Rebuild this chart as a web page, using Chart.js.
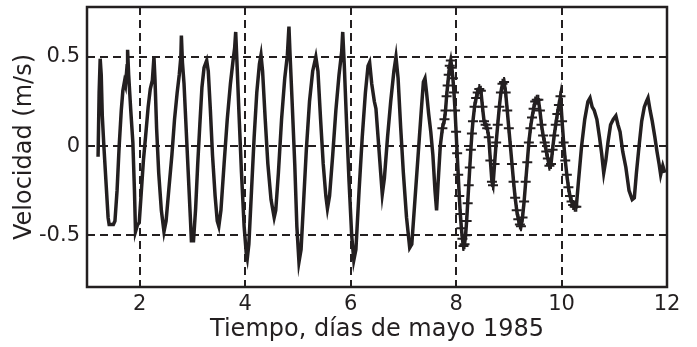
<!DOCTYPE html>
<html>
<head>
<meta charset="utf-8">
<script src="https://cdn.jsdelivr.net/npm/chart.js@4/dist/chart.umd.min.js"></script>
<style>
  html, body { margin: 0; padding: 0; background: #fff; }
  #wrap { width: 697px; height: 347px; }
</style>
</head>
<body>
<div id="wrap"><canvas id="velocity-chart"></canvas></div>
<script>
// Current velocity, May 1985. Values.
// The stretch between markedFrom and markedTo is drawn with "+" markers.

const timeDays = [
  1.21, 1.23, 1.25, 1.27, 1.29, 1.32, 1.36, 1.40, 1.42, 1.50, 1.53, 1.57, 1.61, 1.65, 1.68, 1.71, 1.73, 1.76, 1.77, 1.79,
  1.83, 1.87, 1.90, 1.92, 1.96, 1.99, 2.02, 2.07, 2.11, 2.16, 2.20, 2.24, 2.27, 2.29, 2.32, 2.36, 2.41, 2.46, 2.50, 2.55,
  2.61, 2.66, 2.71, 2.75, 2.78, 2.79, 2.81, 2.84, 2.88, 2.92, 2.96, 2.98, 3.02, 3.06, 3.10, 3.14, 3.18, 3.22, 3.27, 3.30,
  3.34, 3.38, 3.43, 3.47, 3.50, 3.54, 3.60, 3.66, 3.72, 3.77, 3.80, 3.82, 3.84, 3.88, 3.93, 3.98, 4.02, 4.04, 4.07, 4.12,
  4.17, 4.22, 4.27, 4.30, 4.33, 4.38, 4.43, 4.49, 4.55, 4.58, 4.63, 4.69, 4.75, 4.80, 4.83, 4.85, 4.89, 4.94, 4.98, 5.02,
  5.06, 5.11, 5.16, 5.22, 5.28, 5.34, 5.38, 5.43, 5.48, 5.53, 5.56, 5.60, 5.66, 5.72, 5.78, 5.83, 5.85, 5.88, 5.92, 5.97,
  6.02, 6.06, 6.10, 6.16, 6.22, 6.28, 6.33, 6.36, 6.40, 6.45, 6.48, 6.52, 6.57, 6.60, 6.64, 6.70, 6.76, 6.82, 6.86, 6.90,
  6.95, 7.00, 7.06, 7.12, 7.16, 7.22, 7.28, 7.34, 7.38, 7.41, 7.44, 7.48, 7.52, 7.56, 7.60, 7.63, 7.66, 7.70,
  7.74, 7.78, 7.80, 7.82, 7.84, 7.86, 7.88, 7.90, 7.92, 7.94, 7.96, 7.98, 8.00, 8.02, 8.04, 8.06, 8.08, 8.10, 8.12, 8.14,
  8.16, 8.18, 8.20, 8.22, 8.24, 8.26, 8.28, 8.30, 8.32, 8.35, 8.38, 8.41, 8.44, 8.47, 8.50, 8.53, 8.56, 8.59, 8.62, 8.65,
  8.68, 8.70, 8.73, 8.76, 8.79, 8.82, 8.85, 8.88, 8.91, 8.94, 8.97, 9.00, 9.03, 9.06, 9.09, 9.12, 9.15, 9.18, 9.21, 9.23,
  9.26, 9.29, 9.32, 9.35, 9.38, 9.41, 9.44, 9.47, 9.50, 9.53, 9.56, 9.59, 9.62, 9.65, 9.68, 9.71, 9.74, 9.77, 9.80, 9.83,
  9.86, 9.89, 9.92, 9.95, 9.98, 10.01, 10.04, 10.07, 10.10, 10.13, 10.16, 10.19, 10.22, 10.25, 10.28,
  10.32, 10.38, 10.44, 10.50, 10.54, 10.58, 10.62, 10.67, 10.72, 10.76, 10.80, 10.84, 10.88, 10.93, 10.98, 11.03, 11.07,
  11.11, 11.16, 11.22, 11.28, 11.34, 11.38, 11.42, 11.47, 11.52, 11.57, 11.61, 11.64, 11.68, 11.72, 11.77, 11.81, 11.85,
  11.88, 11.92, 11.96
];

const velocity = [
  -0.06, 0.30, 0.49, 0.40, 0.17, 0.00, -0.20, -0.40, -0.44, -0.44, -0.42, -0.25, 0.00, 0.20, 0.31, 0.36, 0.34, 0.45, 0.54, 0.40,
  0.20, 0.02, -0.25, -0.48, -0.44, -0.43, -0.30, -0.08, 0.05, 0.22, 0.32, 0.37, 0.50, 0.37, 0.10, -0.15, -0.36, -0.48, -0.42, -0.25,
  -0.05, 0.15, 0.30, 0.40, 0.50, 0.62, 0.47, 0.35, 0.10, -0.15, -0.40, -0.53, -0.53, -0.35, -0.10, 0.12, 0.33, 0.44, 0.48, 0.42,
  0.20, -0.05, -0.28, -0.42, -0.45, -0.36, -0.10, 0.15, 0.35, 0.48, 0.55, 0.64, 0.50, 0.20, -0.15, -0.45, -0.60, -0.63, -0.55, -0.25,
  0.05, 0.30, 0.46, 0.51, 0.42, 0.15, -0.10, -0.30, -0.40, -0.36, -0.15, 0.15, 0.38, 0.51, 0.67, 0.52, 0.25, -0.10, -0.45, -0.65,
  -0.58, -0.30, -0.02, 0.25, 0.42, 0.50, 0.42, 0.15, -0.10, -0.28, -0.35, -0.28, -0.05, 0.20, 0.40, 0.53, 0.64, 0.45, 0.15, -0.20,
  -0.50, -0.64, -0.58, -0.25, 0.05, 0.30, 0.45, 0.47, 0.35, 0.25, 0.21, 0.05, -0.15, -0.27, -0.18, 0.05, 0.25, 0.42, 0.50, 0.38,
  0.10, -0.15, -0.40, -0.57, -0.55, -0.30, -0.05, 0.20, 0.36, 0.38, 0.30, 0.18, 0.08, -0.05, -0.25, -0.36, -0.20, 0.00,
  0.10, 0.15, 0.20, 0.28, 0.34, 0.40, 0.45, 0.48, 0.44, 0.38, 0.30, 0.20, 0.08, -0.04, -0.16, -0.28, -0.38, -0.46, -0.52, -0.56,
  -0.55, -0.50, -0.42, -0.32, -0.22, -0.12, -0.02, 0.07, 0.14, 0.22, 0.27, 0.30, 0.32, 0.31, 0.22, 0.14, 0.12, 0.10, 0.05, -0.08,
  -0.20, -0.22, -0.10, 0.02, 0.12, 0.22, 0.30, 0.35, 0.36, 0.30, 0.20, 0.10, 0.00, -0.10, -0.20, -0.29, -0.36, -0.41, -0.44, -0.45,
  -0.40, -0.31, -0.20, -0.09, 0.02, 0.10, 0.16, 0.21, 0.25, 0.26, 0.26, 0.20, 0.12, 0.06, 0.02, -0.03, -0.07, -0.11, -0.10, -0.02,
  0.06, 0.12, 0.18, 0.23, 0.28, 0.14, 0.02, -0.08, -0.16, -0.23, -0.28, -0.31, -0.33, -0.34, -0.34,
  -0.20, 0.00, 0.15, 0.25, 0.27, 0.22, 0.20, 0.15, 0.05, -0.04, -0.15, -0.08, 0.02, 0.12, 0.15, 0.17, 0.12,
  0.08, -0.03, -0.12, -0.25, -0.30, -0.29, -0.15, 0.00, 0.14, 0.22, 0.25, 0.27, 0.20, 0.14, 0.05, -0.03, -0.10,
  -0.16, -0.11, -0.15
];

const markedFrom = 7.74;
const markedTo = 10.28;

const xTickValues = [2, 4, 6, 8, 10, 12];
const yTickValues = [-0.5, 0, 0.5];

const ink = '#231f20';

const linePoints = timeDays.map(function(t, i) { return { x: t, y: velocity[i] }; });
const markedPoints = linePoints.filter(function(p) { return p.x >= markedFrom && p.x <= markedTo; });

// Chart.js only draws the left/bottom axis lines; the reference has a full box.
const frame = {
    id: 'frame',
    afterDraw: function(chart) {
        const a = chart.chartArea;
        const ctx = chart.ctx;
        ctx.save();
        ctx.strokeStyle = ink;
        ctx.lineWidth = 2.5;
        ctx.setLineDash([]);
        ctx.strokeRect(a.left, a.top, a.right - a.left, a.bottom - a.top);
        ctx.restore();
    }
};

const tickFont = { family: 'DejaVu Sans', size: 21 };
const titleFont = { family: 'DejaVu Sans', size: 24 };

new Chart(document.getElementById('velocity-chart'), {
    type: 'scatter',
    data: {
        datasets: [
            {
                data: linePoints,
                showLine: true,
                borderColor: ink,
                borderWidth: 3.5,
                pointRadius: 0,
                tension: 0,
            },
            {
                data: markedPoints,
                showLine: false,
                pointStyle: 'cross',
                pointRadius: 5,
                borderColor: ink,
                borderWidth: 2,
            }
        ]
    },
    options: {
        responsive: true,
        maintainAspectRatio: false,
        animation: false,
        layout: { padding: { top: 7, right: 30, left: 0, bottom: 0 } },
        plugins: {
            legend: { display: false },
            tooltip: { enabled: false }
        },
        scales: {
            x: {
                type: 'linear',
                min: 1,
                max: 12,
                afterBuildTicks: function(scale) {
                    scale.ticks = xTickValues.map(function(v) { return { value: v }; });
                },
                afterFit: function(scale) { scale.height = 60; },
                grid: { color: ink, lineWidth: 2, drawTicks: false },
                border: { display: false, dash: [8, 5] },
                ticks: {
                    color: ink,
                    font: tickFont,
                    padding: 5,
                    maxRotation: 0,
                    callback: function(v) { return String(v); }
                },
                title: {
                    display: true,
                    text: 'Tiempo, días de mayo 1985',
                    color: ink,
                    font: titleFont,
                    padding: { top: 0, bottom: 3 }
                }
            },
            y: {
                type: 'linear',
                min: -0.79,
                max: 0.78,
                afterBuildTicks: function(scale) {
                    scale.ticks = yTickValues.map(function(v) { return { value: v }; });
                },
                afterFit: function(scale) {
                    scale.width = 87;
                    // labels sit well inside the range, no extra room needed
                    scale.paddingTop = 0;
                    scale.paddingBottom = 0;
                },
                grid: { color: ink, lineWidth: 2, drawTicks: false },
                border: { display: false, dash: [8, 5] },
                ticks: {
                    color: ink,
                    font: tickFont,
                    padding: 7,
                    callback: function(v) { return String(v); }
                },
                title: {
                    display: true,
                    text: 'Velocidad (m/s)',
                    color: ink,
                    font: titleFont,
                    padding: { top: 10, bottom: 0 }
                }
            }
        }
    },
    plugins: [frame]
});
</script>
</body>
</html>
